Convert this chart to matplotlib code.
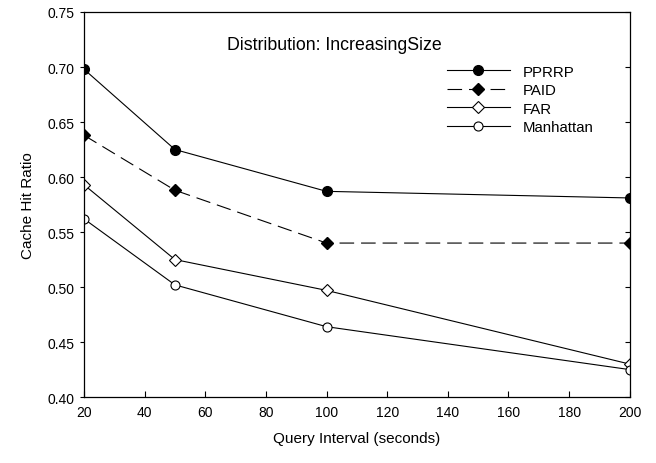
import matplotlib
matplotlib.use("Agg")
import matplotlib.pyplot as plt

plt.rcParams['font.family'] = ['Liberation Sans', 'DejaVu Sans']
plt.rcParams['lines.scale_dashes'] = False

x = [20, 50, 100, 200]
pprrp = [0.698, 0.625, 0.587, 0.581]
paid = [0.638, 0.588, 0.540, 0.540]
far = [0.593, 0.525, 0.497, 0.430]
manhattan = [0.562, 0.502, 0.464, 0.425]
xticks = [20, 40, 60, 80, 100, 120, 140, 160, 180, 200]
yticks = [0.40, 0.45, 0.50, 0.55, 0.60, 0.65, 0.70, 0.75]

fig = plt.figure(figsize=(6.56, 4.64), dpi=100)
ax = fig.add_axes([0.128, 0.142, 0.832, 0.830])

lw = 0.8
ax.plot(x, pprrp, color='black', lw=lw, marker='o', ms=7, mfc='black', mec='black', label='PPRRP')
ax.plot(x, paid, color='black', lw=lw, marker='D', ms=6, mfc='black', mec='black',
        dashes=(10.5, 5), label='PAID')
ax.plot(x, far, color='black', lw=lw, marker='D', ms=6, mfc='white', mec='black', mew=0.8, label='FAR')
ax.plot(x, manhattan, color='black', lw=lw, marker='o', ms=6.5, mfc='white', mec='black', mew=0.8, label='Manhattan')

ax.set_xlim(20, 200)
ax.set_ylim(0.40, 0.75)
ax.set_xticks(xticks)
ax.set_yticks(yticks)
ax.set_yticklabels([f"{v:.2f}" for v in yticks])
ax.tick_params(axis='x', direction='in', length=4, pad=6, labelsize=10, width=0.8)
ax.tick_params(axis='y', direction='out', length=3, pad=4, labelsize=10, width=0.8)
for s in ax.spines.values():
    s.set_linewidth(0.9)

ax2 = ax.twinx()
ax2.set_ylim(0.40, 0.75)
ax2.set_yticks(yticks)
ax2.tick_params(axis='y', direction='in', length=3.5, labelright=False, width=0.8)
for s in ax2.spines.values():
    s.set_visible(False)

ax.set_xlabel('Query Interval (seconds)', fontsize=11, labelpad=8)
ax.set_ylabel('Cache Hit Ratio', fontsize=11, labelpad=9)

ax.text(0.262, 0.904, 'Distribution: IncreasingSize', transform=ax.transAxes,
        fontsize=12.8, ha='left', va='baseline')

leg = ax.legend(loc='upper left', bbox_to_anchor=(0.654, 0.879), frameon=False,
                fontsize=10.8, handlelength=4.2, handletextpad=0.87, labelspacing=0.3,
                borderaxespad=0)

fig.savefig('out.png', dpi=100)
